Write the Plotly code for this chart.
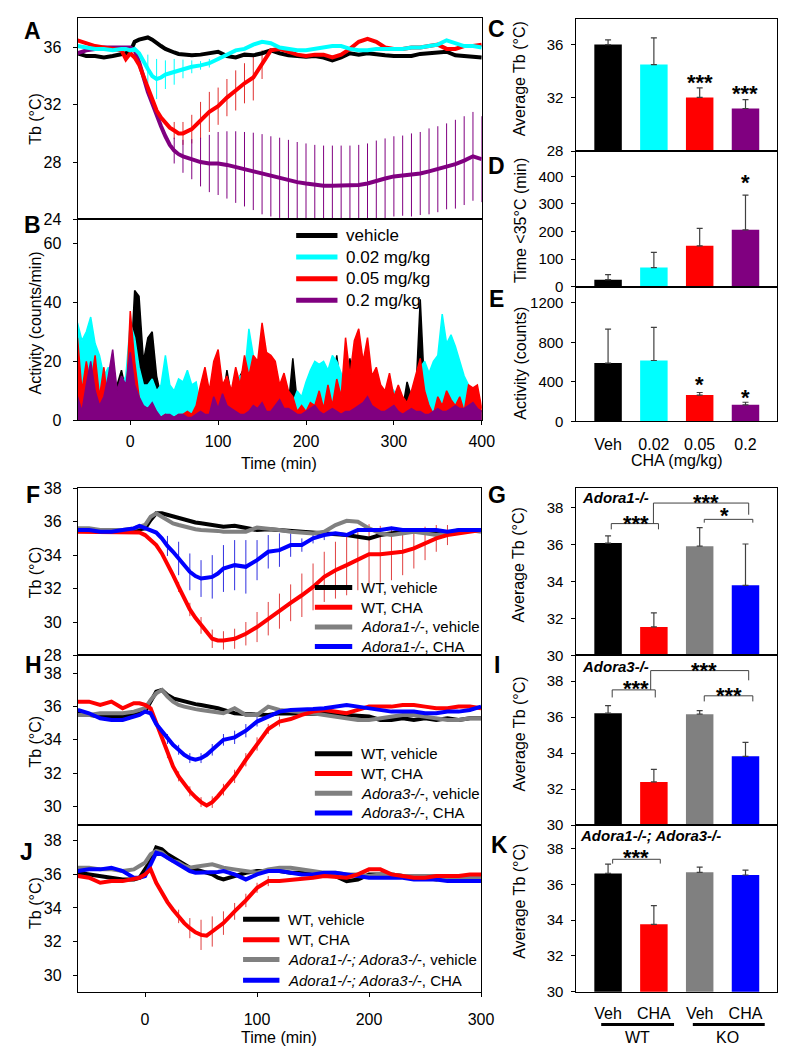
import plotly.graph_objects as go

W, H = 788, 1050
FONT = "Liberation Sans, Arial, sans-serif"

# ======================= DATA =======================
# ---- Panel A: Tb (°C) vs time (min), CHA doses ----
A_time = [-60, -50, -40, -30, -20, -10, -5, 0, 5, 10, 15, 20, 25, 30, 35, 40, 45, 50, 55, 60,
          70, 80, 90, 100, 110, 120, 130, 140, 150, 160, 170, 180, 190, 200, 210, 220, 230, 240,
          250, 260, 270, 280, 290, 300, 310, 320, 330, 340, 350, 360, 370, 380, 390, 400]
A_veh = [35.6, 35.4, 35.4, 35.3, 35.4, 35.5, 35.6, 35.7, 36.4, 36.55, 36.6, 36.7, 36.55, 36.3, 36.1, 35.9, 35.75, 35.65, 35.55, 35.5,
         35.45, 35.5, 35.6, 35.7, 35.4, 35.3, 35.5, 35.45, 35.6, 35.8, 35.6, 35.45, 35.4, 35.35, 35.4, 35.3, 35.1, 35.3,
         35.6, 35.5, 35.6, 35.5, 35.45, 35.4, 35.4, 35.4, 35.55, 35.6, 35.7, 35.7, 35.45, 35.4, 35.35, 35.3]
A_002 = [36.1, 36.0, 35.9, 35.9, 35.8, 35.9, 35.9, 35.8, 35.9, 35.6, 35.0, 34.5, 34.0, 33.8, 33.9, 34.1, 34.2, 34.3, 34.4, 34.5,
         34.65, 34.75, 34.9, 35.2, 35.5, 35.8, 35.9, 36.2, 36.4, 36.3, 36.0, 35.9, 35.8, 35.8, 35.9, 36.0, 36.1, 36.1,
         35.9, 35.8, 35.8, 35.9, 35.9, 35.95, 35.9, 36.0, 36.0, 36.1, 36.2, 36.5, 36.3, 36.1, 36.1, 36.0]
A_005 = [36.5, 36.3, 36.1, 36.0, 35.9, 35.8, 35.2, 35.6, 35.3, 34.8, 34.0, 33.2, 32.3, 31.6, 31.1, 30.7, 30.4, 30.2, 30.0, 30.0,
         30.3, 30.9, 31.5, 31.9, 32.5, 33.0, 33.5, 33.9, 34.8, 35.8, 35.9, 35.7, 35.5, 35.4, 35.5, 35.5, 35.3, 35.5,
         35.9, 36.4, 36.6, 36.4, 36.0, 35.9, 35.9, 36.0, 36.0, 36.1, 36.2, 35.9, 35.9, 36.1, 36.1, 36.2]
A_02 = [35.6, 35.8, 35.9, 36.0, 36.0, 36.0, 36.0, 36.0, 35.8, 35.0, 33.95, 32.9, 32.1, 31.2, 30.5, 29.8, 29.2, 28.8, 28.55, 28.4,
        28.2, 28.0, 27.9, 27.9, 27.8, 27.65, 27.5, 27.35, 27.15, 27.0, 26.9, 26.75, 26.6, 26.5, 26.4, 26.35, 26.35, 26.35,
        26.35, 26.4, 26.5, 26.7, 26.85, 27.0, 27.05, 27.1, 27.2, 27.35, 27.5, 27.7, 27.85, 28.1, 28.4, 28.2]
A_002_err_t = [20, 30, 40, 50, 60, 70, 80, 90]
A_002_err = [1.0, 1.4, 1.0, 0.9, 0.65, 0.45, 0.3, 0.3]
A_005_err_t = [50, 60, 70, 80, 90, 100, 110, 120, 130, 140, 150]
A_005_err = [0.6, 0.8, 1.0, 1.3, 1.4, 1.3, 1.3, 1.4, 1.4, 1.6, 1.0]
A_02_err_t = [50, 60, 70, 80, 90, 100, 110, 120, 130, 140, 150, 160, 170, 180, 190, 200, 210, 220,
              230, 240, 250, 260, 270, 280, 290, 300, 310, 320, 330, 340, 350, 360, 370, 380, 390, 400]
A_02_err = [0.9, 1.15, 1.4, 1.7, 2.0, 2.2, 2.35, 2.5, 2.6, 2.7, 2.8, 2.8, 2.8, 2.8, 2.8, 2.8, 2.8, 2.8,
            2.8, 2.8, 2.8, 2.8, 2.8, 2.8, 2.8, 2.8, 2.8, 2.9, 2.9, 3.0, 3.0, 3.0, 3.1, 3.1, 3.1, 3.0]

# ---- Panel B: activity (counts/min), 5-min bins ----
B_time = list(range(-60, 401, 5))
B_veh = [12, 5, 8, 4, 6, 3, 10, 5, 8, 12, 17, 10, 15, 44, 42, 20, 28, 30, 15, 8,
         4, 3, 3, 5, 4, 3, 4, 3, 3, 2, 3, 4, 5, 6, 17, 8, 10, 15, 18, 25,
         12, 8, 10, 6, 5, 9, 4, 6, 5, 21, 6, 4, 3, 4, 5, 3, 6, 8, 10, 22,
         10, 12, 21, 8, 12, 10, 9, 6, 5, 8, 10, 6, 8, 5, 4, 13, 8, 9, 41, 10,
         6, 5, 9, 14, 8, 13, 10, 6, 4, 6, 5, 5, 3]
B_002 = [33, 27, 30, 35, 26, 22, 15, 18, 10, 8, 12, 15, 33, 28, 18, 12, 12, 14, 10, 12,
         22, 12, 10, 14, 13, 17, 12, 13, 5, 8, 4, 3, 2, 0, 8, 10, 12, 15, 15, 31,
         22, 18, 10, 8, 6, 5, 4, 3, 4, 6, 10, 8, 13, 17, 20, 19, 20, 17, 22, 20,
         16, 8, 10, 5, 4, 6, 3, 5, 8, 6, 8, 12, 10, 8, 5, 4, 8, 12, 18, 20,
         16, 20, 22, 36, 26, 29, 25, 20, 15, 12, 8, 5, 2]
B_005 = [28, 10, 20, 12, 22, 8, 18, 5, 3, 5, 2, 4, 37, 20, 8, 0, 3, 2, 2, 1,
         2, 1, 1, 2, 2, 3, 2, 5, 12, 18, 10, 20, 24, 12, 15, 10, 18, 12, 22, 15,
         22, 20, 33, 23, 22, 20, 12, 16, 10, 8, 3, 5, 3, 6, 5, 10, 4, 12, 5, 14,
         8, 28, 15, 27, 31, 20, 28, 15, 18, 12, 10, 16, 8, 12, 8, 6, 10, 16, 21, 10,
         5, 2, 8, 5, 10, 7, 5, 8, 3, 12, 11, 12, 4]
B_02 = [8, 3, 12, 20, 10, 5, 8, 15, 24, 10, 15, 12, 23, 12, 8, 5, 4, 6, 3, 1,
        2, 2, 1, 2, 2, 1, 1, 2, 3, 2, 2, 8, 4, 9, 5, 4, 3, 2, 2, 3,
        5, 4, 6, 3, 3, 5, 7, 4, 4, 3, 2, 2, 3, 4, 5, 3, 2, 3, 4, 3,
        2, 3, 3, 4, 5, 6, 8, 5, 4, 3, 3, 4, 5, 3, 2, 3, 4, 3, 3, 2,
        2, 3, 4, 3, 3, 4, 5, 4, 4, 5, 6, 4, 3]

# ---- Panels C, D, E: bar summaries ----
dose_labels = ["Veh", "0.02", "0.05", "0.2"]
C_tb = [36.0, 34.5, 32.03, 31.2]
C_tb_err = [0.35, 2.0, 0.72, 0.66]
D_time35 = [25, 69, 148, 206]
D_time35_err = [18, 55, 63, 126]
E_act = [590, 616, 266, 167]
E_act_err = [344, 335, 26, 26]

# ---- Panels F, H, J: Tb vs time in knockouts ----
K_time = [-60, -50, -40, -30, -20, -10, -5, 0, 5, 10, 15, 20, 25, 30, 35, 40, 45, 50, 55, 60, 65, 70,
          80, 90, 100, 110, 120, 130, 140, 150, 160, 170, 180, 190, 200, 210, 220, 230, 240, 250, 260, 270, 280, 290, 300]
F_wt_veh = [35.55, 35.5, 35.4, 35.4, 35.4, 35.5, 35.5, 35.6, 36.1, 36.5, 36.5, 36.4, 36.3, 36.2, 36.1, 36.0, 35.95, 35.9, 35.85, 35.8, 35.75, 35.7,
            35.75, 35.6, 35.5, 35.55, 35.5, 35.45, 35.4, 35.35, 35.3, 35.3, 35.2, 35.1, 35.0, 35.2, 35.3, 35.4, 35.5, 35.4, 35.3, 35.3, 35.4, 35.5, 35.5]
F_wt_cha = [35.4, 35.4, 35.4, 35.4, 35.4, 35.4, 35.35, 35.2, 34.9, 34.6, 34.1, 33.5, 32.8, 32.1, 31.4, 30.75, 30.25, 29.8, 29.35, 29.0, 28.9, 28.9,
            29.0, 29.3, 29.7, 30.2, 30.65, 31.15, 31.6, 32.1, 32.7, 33.1, 33.4, 33.7, 34.05, 34.05, 34.1, 34.2, 34.4, 34.7, 35.0, 35.2, 35.3, 35.4, 35.5]
F_ko_veh = [35.6, 35.6, 35.5, 35.5, 35.5, 35.6, 35.7, 35.8, 36.3, 36.5, 36.3, 36.1, 35.9, 35.8, 35.7, 35.6, 35.55, 35.5, 35.5, 35.5, 35.45, 35.4,
            35.4, 35.4, 35.65, 35.6, 35.5, 35.4, 35.35, 35.3, 35.4, 35.8, 36.05, 36.0, 35.6, 35.3, 35.2, 35.3, 35.4, 35.3, 35.2, 35.3, 35.5, 35.5, 35.4]
F_ko_cha = [35.5, 35.5, 35.4, 35.4, 35.5, 35.6, 35.75, 35.6, 35.5, 35.35, 35.0, 34.55, 34.2, 33.8, 33.4, 33.0, 32.75, 32.6, 32.65, 32.7, 32.9, 33.2,
            33.4, 33.3, 33.7, 34.2, 34.3, 34.6, 34.6, 35.0, 35.2, 35.3, 35.2, 35.5, 35.5, 35.5, 35.6, 35.5, 35.5, 35.5, 35.5, 35.4, 35.5, 35.5, 35.5]
F_wt_cha_err_t = [30, 40, 50, 60, 70, 80, 90, 100, 110, 120, 130, 140, 150, 160, 170, 180, 190, 200, 210, 220, 230, 240, 250, 260, 270]
F_wt_cha_err = [0.3, 0.4, 0.5, 0.55, 0.55, 0.6, 0.7, 0.9, 1.0, 1.05, 1.1, 1.3, 1.4, 1.5, 1.7, 1.8, 1.8, 1.8, 1.7, 1.6, 1.4, 1.2, 1.0, 0.8, 0.6]
F_ko_cha_err_t = [20, 30, 40, 50, 60, 70, 80, 90, 100, 110, 120, 130, 140, 150, 160]
F_ko_cha_err = [0.6, 1.0, 1.1, 1.1, 1.3, 1.4, 1.5, 1.6, 1.2, 1.0, 1.0, 0.7, 0.4, 0.3, 0.3]

H_wt_veh = [35.6, 35.5, 35.4, 35.4, 35.4, 35.5, 35.6, 35.7, 36.3, 36.9, 37.0, 36.7, 36.5, 36.4, 36.3, 36.2, 36.15, 36.1, 36.05, 36.0, 35.9, 35.8,
            35.6, 35.55, 35.5, 35.5, 35.6, 35.6, 35.6, 35.6, 35.6, 35.55, 35.5, 35.45, 35.4, 35.2, 35.2, 35.3, 35.2, 35.3, 35.2, 35.3, 35.2, 35.3, 35.3]
H_wt_cha = [36.3, 36.3, 36.1, 36.3, 35.9, 36.2, 36.2, 36.1, 35.9, 35.0, 34.1, 33.2, 32.4, 31.8, 31.3, 30.9, 30.55, 30.25, 30.05, 30.25, 30.6, 31.0,
            31.8, 32.8, 33.75, 34.65, 35.1, 35.25, 35.5, 35.7, 35.8, 35.7, 35.6, 35.8, 36.0, 36.0, 36.0, 36.1, 36.1, 36.0, 35.9, 35.9, 36.0, 36.0, 35.9]
H_ko_veh = [35.5, 35.5, 35.6, 35.6, 35.6, 35.7, 35.8, 35.9, 36.4, 36.8, 37.0, 36.6, 36.3, 36.1, 36.0, 35.9, 35.85, 35.8, 35.75, 35.7, 35.65, 35.6,
            35.9, 35.5, 35.5, 36.0, 35.8, 35.75, 35.7, 35.6, 35.5, 35.4, 35.25, 35.2, 35.2, 35.3, 35.4, 35.5, 35.5, 35.4, 35.3, 35.2, 35.2, 35.3, 35.3]
H_ko_cha = [35.8, 35.6, 35.3, 35.2, 35.2, 35.4, 35.5, 35.7, 35.6, 34.95, 34.5, 34.05, 33.7, 33.4, 33.1, 32.9, 32.8, 32.9, 33.1, 33.4, 33.7, 34.0,
            34.15, 34.55, 35.1, 35.4, 35.7, 35.8, 35.8, 35.85, 35.9, 36.0, 36.1, 36.0, 35.9, 35.8, 35.7, 35.7, 35.7, 35.6, 35.6, 35.7, 35.7, 35.8, 36.0]
H_wt_cha_err_t = [20, 30, 40, 50, 60, 70, 80, 90, 100, 110, 120]
H_wt_cha_err = [0.3, 0.3, 0.3, 0.3, 0.35, 0.35, 0.4, 0.4, 0.4, 0.3, 0.3]
H_ko_cha_err_t = [20, 30, 40, 50, 60, 70, 80, 90, 100]
H_ko_cha_err = [0.3, 0.3, 0.3, 0.3, 0.35, 0.35, 0.4, 0.4, 0.3]

J_wt_veh = [36.1, 36.0, 35.9, 35.8, 35.7, 35.7, 35.8, 36.3, 36.8, 37.6, 37.5, 37.2, 37.0, 36.8, 36.6, 36.4, 36.3, 36.2, 36.1, 36.0, 35.8, 35.7,
            35.9, 36.1, 36.2, 36.2, 36.2, 36.1, 36.1, 36.0, 36.0, 35.9, 35.6, 35.7, 36.0, 36.0, 36.0, 35.9, 35.8, 35.8, 35.7, 35.8, 35.7, 35.7, 35.7]
J_wt_cha = [35.9, 35.8, 35.5, 35.6, 35.6, 35.7, 35.8, 36.0, 36.3, 35.5, 34.9, 34.35, 33.9, 33.5, 33.1, 32.8, 32.55, 32.4, 32.35, 32.6, 32.85, 33.1,
            33.8, 34.45, 35.2, 35.6, 35.6, 35.65, 35.7, 35.8, 35.9, 35.85, 35.8, 36.0, 36.3, 36.3, 36.0, 35.9, 35.8, 35.8, 35.9, 35.9, 35.9, 36.0, 36.0]
J_ko_veh = [36.4, 36.4, 36.3, 36.3, 36.2, 36.3, 36.5, 36.7, 37.2, 37.4, 37.3, 37.0, 36.8, 36.7, 36.5, 36.4, 36.45, 36.5, 36.55, 36.6, 36.5, 36.4,
            36.3, 36.2, 36.1, 36.3, 36.4, 36.4, 36.3, 36.2, 36.1, 36.1, 36.0, 36.0, 35.9, 36.0, 36.0, 35.9, 35.9, 35.9, 35.9, 35.8, 35.8, 35.8, 35.8]
J_ko_cha = [36.2, 36.3, 36.3, 36.4, 36.2, 35.8, 35.8, 35.9, 36.6, 37.3, 37.2, 37.0, 36.8, 36.6, 36.4, 36.2, 36.1, 36.1, 36.1, 36.1, 36.15, 36.2,
            36.0, 35.7, 36.0, 36.2, 36.2, 36.1, 36.0, 36.0, 36.1, 36.1, 36.0, 35.9, 35.8, 35.8, 35.8, 35.8, 35.7, 35.7, 35.7, 35.6, 35.6, 35.6, 35.6]
J_wt_cha_err_t = [30, 40, 50, 60, 70, 80, 90, 100, 110]
J_wt_cha_err = [0.4, 0.6, 0.9, 0.9, 0.7, 0.5, 0.4, 0.3, 0.3]

# ---- Panels G, I, K: average Tb bars ----
group_labels = ["Veh", "CHA", "Veh", "CHA"]
G_tb = [36.07, 31.54, 35.9, 33.79]
G_tb_err = [0.39, 0.76, 1.0, 2.23]
I_tb = [36.22, 32.4, 36.16, 33.82]
I_tb_err = [0.42, 0.7, 0.2, 0.78]
Kb_tb = [36.62, 33.77, 36.68, 36.53]
Kb_tb_err = [0.52, 1.05, 0.29, 0.27]

# ======================= STYLE =======================
BLACK, CYAN, RED, PURPLE, GRAY, BLUE = "#000000", "#00FFFF", "#FF0000", "#800080", "#808080", "#0000FF"
dose_colors = [BLACK, CYAN, RED, PURPLE]
ko_colors = [BLACK, RED, GRAY, BLUE]

fig = go.Figure()
layout_axes = {}
shapes = []
annotations = []


def names(n):
    s = "" if n == 1 else str(n)
    return "xaxis" + s, "yaxis" + s, "x" + s, "y" + s


def make_axes(n, xpx, ypx, xr, yr, yticks, xticks=None, xticktext=None, xtickmarks=True,
              xstandoff=3, ystandoff=8, xfont=16, yfont=16):
    xa, ya, xref, yref = names(n)
    common = dict(showline=True, linecolor="black", linewidth=1, mirror=True,
                  showgrid=False, zeroline=False, fixedrange=True)
    layout_axes[xa] = dict(common, domain=[xpx[0] / W, xpx[1] / W], range=xr, anchor=yref,
                           tickmode="array", tickvals=xticks if xticks else [],
                           ticktext=xticktext, showticklabels=bool(xticks),
                           ticks="outside" if (xticks and xtickmarks) else "", ticklen=4,
                           tickcolor="black", ticklabelstandoff=xstandoff,
                           tickfont=dict(family=FONT, size=xfont, color="black"))
    layout_axes[ya] = dict(common, domain=[1 - ypx[1] / H, 1 - ypx[0] / H], range=yr, anchor=xref,
                           tickmode="array", tickvals=yticks, ticks="outside", ticklen=4,
                           tickcolor="black", ticklabelstandoff=ystandoff,
                           tickfont=dict(family=FONT, size=yfont, color="black"))


def line(n, x, y, color, width=4):
    _, _, xr, yr = names(n)
    fig.add_trace(go.Scatter(x=x, y=y, mode="lines", line=dict(color=color, width=width),
                             xaxis=xr, yaxis=yr, showlegend=False, hoverinfo="skip"))


def errbars(n, t_all, y_all, et, ev, color):
    _, _, xr, yr = names(n)
    ys = [y_all[t_all.index(t)] for t in et]
    fig.add_trace(go.Scatter(x=et, y=ys, mode="markers", marker=dict(size=1, color="rgba(0,0,0,0)"),
                             error_y=dict(type="data", array=ev, symmetric=True, color=color,
                                          thickness=1, width=0),
                             xaxis=xr, yaxis=yr, showlegend=False, hoverinfo="skip"))


def area(n, x, y, color):
    _, _, xr, yr = names(n)
    fig.add_trace(go.Scatter(x=x, y=y, mode="lines", fill="tozeroy", fillcolor=color,
                             line=dict(color=color, width=1.5), xaxis=xr, yaxis=yr,
                             showlegend=False, hoverinfo="skip"))


def bars(n, vals, errs, colors):
    _, _, xr, yr = names(n)
    fig.add_trace(go.Bar(x=list(range(len(vals))), y=vals, width=0.6,
                         marker=dict(color=colors, line=dict(width=0)),
                         error_y=dict(type="data", array=errs, arrayminus=[0] * len(errs),
                                      symmetric=False, color="#404040", thickness=1.2, width=3),
                         xaxis=xr, yaxis=yr, showlegend=False, hoverinfo="skip"))


def text(x, y, s, size=16, bold=False, italic=False, angle=0, xanchor="center", yanchor="middle"):
    if bold:
        s = "<b>" + s + "</b>"
    if italic:
        s = "<i>" + s + "</i>"
    annotations.append(dict(text=s, x=x / W, y=1 - y / H, xref="paper", yref="paper",
                            showarrow=False, textangle=angle, xanchor=xanchor, yanchor=yanchor,
                            font=dict(family=FONT, size=size, color="black")))


def star(n, x, y, s, size=22):
    _, _, xr, yr = names(n)
    annotations.append(dict(text="<b>" + s + "</b>", x=x, y=y, xref=xr, yref=yr, showarrow=False,
                            xanchor="center", yanchor="middle", yshift=-6,
                            font=dict(family=FONT, size=size, color="black")))


def bracket(n, x0, x1, ytop, yleft, yright):
    _, _, xr, yr = names(n)
    shapes.append(dict(type="path", xref=xr, yref=yr,
                       path=f"M {x0},{yleft} L {x0},{ytop} L {x1},{ytop} L {x1},{yright}",
                       line=dict(color="#404040", width=1)))


def legend(x0, x1, xt, ys, colors, labels, size):
    for y, c, lab in zip(ys, colors, labels):
        shapes.append(dict(type="line", xref="paper", yref="paper", x0=x0 / W, x1=x1 / W,
                           y0=1 - y / H, y1=1 - y / H, line=dict(color=c, width=5)))
        text(xt, y, lab, size=size, xanchor="left")


LX = (70.7, 481.7)
RX = (578, 782)
BX_RANGE = [-0.69, 3.69]
RF = 15  # right-column tick font

# ---- axes ----
make_axes(1, LX, (2, 206.7), [-60, 400], [24, 38.06], [24, 28, 32, 36])
make_axes(2, LX, (206.7, 411), [-60, 400], [0, 68.1], [0, 20, 40, 60],
          xticks=[0, 100, 200, 300, 400], xstandoff=2)
make_axes(3, RX, (2.7, 137.3), BX_RANGE, [28, 37.95], [28, 32, 36], ystandoff=5, yfont=RF)
make_axes(4, RX, (137.3, 275), BX_RANGE, [0, 492], [0, 100, 200, 300, 400], ystandoff=5, yfont=RF)
make_axes(5, RX, (275, 412), BX_RANGE, [0, 1365], [0, 400, 800, 1200],
          xticks=[0, 1, 2, 3], xticktext=dose_labels, xtickmarks=False, xstandoff=8,
          ystandoff=5, yfont=RF)
make_axes(6, (71, 481), (480, 650), [-60, 300], [28, 38], [28, 30, 32, 34, 36, 38])
make_axes(7, (71, 481), (650, 822.5), [-60, 300], [28.86, 39.08], [30, 32, 34, 36, 38])
make_axes(8, (71, 481), (822.5, 991.7), [-60, 300], [29.02, 38.93], [30, 32, 34, 36, 38],
          xticks=[0, 100, 200, 300], xstandoff=9)
make_axes(9, RX, (480, 650), BX_RANGE, [30, 39.03], [30, 32, 34, 36, 38], ystandoff=5, yfont=RF)
make_axes(10, RX, (650, 822.5), BX_RANGE, [30, 39.42], [30, 32, 34, 36, 38], ystandoff=5, yfont=RF)
make_axes(11, RX, (822.5, 991.7), BX_RANGE, [30, 39.32], [30, 32, 34, 36, 38],
          xticks=[0, 1, 2, 3], xticktext=group_labels, xtickmarks=False, xstandoff=7,
          ystandoff=5, yfont=RF)

# ---- Panel A ----
errbars(1, A_time, A_002, A_002_err_t, A_002_err, CYAN)
errbars(1, A_time, A_005, A_005_err_t, A_005_err, "#E03030")
errbars(1, A_time, A_02, A_02_err_t, A_02_err, PURPLE)
line(1, A_time, A_veh, BLACK)
line(1, A_time, A_02, PURPLE)
line(1, A_time, A_005, RED)
line(1, A_time, A_002, CYAN)

# ---- Panel B ----
area(2, B_time, B_veh, BLACK)
area(2, B_time, B_002, CYAN)
area(2, B_time, B_005, RED)
area(2, B_time, B_02, PURPLE)

# ---- Panels C, D, E ----
bars(3, C_tb, C_tb_err, dose_colors)
bars(4, D_time35, D_time35_err, dose_colors)
bars(5, E_act, E_act_err, dose_colors)
star(3, 2, 33.6, "***")
star(3, 3, 32.75, "***")
star(4, 3, 398, "*")
star(5, 2, 433, "*")
star(5, 3, 302, "*")

# ---- Panel F ----
errbars(6, K_time, F_wt_cha, F_wt_cha_err_t, F_wt_cha_err, "#E04040")
errbars(6, K_time, F_ko_cha, F_ko_cha_err_t, F_ko_cha_err, "#3030E0")
line(6, K_time, F_wt_veh, BLACK)
line(6, K_time, F_ko_veh, GRAY)
line(6, K_time, F_wt_cha, RED)
line(6, K_time, F_ko_cha, BLUE)

# ---- Panel H ----
errbars(7, K_time, H_wt_cha, H_wt_cha_err_t, H_wt_cha_err, "#E04040")
errbars(7, K_time, H_ko_cha, H_ko_cha_err_t, H_ko_cha_err, "#3030E0")
line(7, K_time, H_wt_veh, BLACK)
line(7, K_time, H_ko_veh, GRAY)
line(7, K_time, H_wt_cha, RED)
line(7, K_time, H_ko_cha, BLUE)

# ---- Panel J ----
errbars(8, K_time, J_wt_cha, J_wt_cha_err_t, J_wt_cha_err, "#E04040")
line(8, K_time, J_wt_veh, BLACK)
line(8, K_time, J_ko_veh, GRAY)
line(8, K_time, J_ko_cha, BLUE)
line(8, K_time, J_wt_cha, RED)

# ---- Panels G, I, K ----
bars(9, G_tb, G_tb_err, ko_colors)
bars(10, I_tb, I_tb_err, ko_colors)
bars(11, Kb_tb, Kb_tb_err, ko_colors)

bracket(9, 0.07, 1.1, 37.12, 36.81, 36.81)
bracket(9, 0.99, 3.07, 38.23, 37.12, 37.6)
bracket(9, 2.1, 3.16, 37.35, 37.17, 37.17)
star(9, 0.6, 37.43, "***")
star(9, 2.13, 38.58, "***")
star(9, 2.54, 37.88, "*")

bracket(10, 0.09, 1.03, 37.51, 37.09, 37.09)
bracket(10, 0.93, 3.07, 38.58, 37.51, 38.04)
bracket(10, 2.1, 3.16, 37.18, 36.87, 36.87)
star(10, 0.6, 37.91, "***")
star(10, 2.1, 38.91, "***")
star(10, 2.63, 37.55, "***")

bracket(11, 0.1, 1.14, 37.41, 37.17, 37.17)
star(11, 0.6, 37.82, "***")

# group underlines in K
for gx0, gx1 in [(-0.15, 1.44), (1.85, 3.42)]:
    shapes.append(dict(type="line", xref="x11", yref="paper", x0=gx0, x1=gx1,
                       y0=1 - 1025 / H, y1=1 - 1025 / H, line=dict(color="black", width=3)))
text(640, 1038, "WT", size=16)
text(732, 1038, "KO", size=16)

# ---- gene labels in bar panels ----
text(582, 489, "Adora1-/-", size=15, bold=True, italic=True, xanchor="left")
text(582, 661, "Adora3-/-", size=15, bold=True, italic=True, xanchor="left")
text(580, 833, "Adora1-/-; Adora3-/-", size=15, bold=True, italic=True, xanchor="left")

# ---- legends ----
legend(293, 335, 342, [223, 245, 267, 289], dose_colors,
       ["vehicle", "0.02 mg/kg", "0.05 mg/kg", "0.2 mg/kg"], 17)
legend(312, 350, 357, [581, 601, 621, 641], [BLACK, RED, GRAY, BLUE],
       ["WT, vehicle", "WT, CHA", "<i>Adora1-/-</i>, vehicle", "<i>Adora1-/-</i>, CHA"], 15)
legend(312, 350, 357, [750, 770, 790, 810], [BLACK, RED, GRAY, BLUE],
       ["WT, vehicle", "WT, CHA", "<i>Adora3-/-</i>, vehicle", "<i>Adora3-/-</i>, CHA"], 15)
legend(239, 276, 283, [918, 939, 959, 980], [BLACK, RED, GRAY, BLUE],
       ["WT, vehicle", "WT, CHA", "<i>Adora1-/-; Adora3-/-</i>, vehicle",
        "<i>Adora1-/-; Adora3-/-</i>, CHA"], 15)

# ---- axis titles ----
text(28, 105, "Tb (°C)", angle=-90)
text(28, 312, "Activity (counts/min)", angle=-90)
text(276, 455, "Time (min)")
text(521, 64, "Average Tb (°C)", angle=-90)
text(521, 208, "Time <35°C (min)", angle=-90)
text(521, 353, "Activity (counts)", angle=-90)
text(680, 452, "CHA (mg/kg)")
text(28, 566, "Tb (°C)", angle=-90)
text(28, 738, "Tb (°C)", angle=-90)
text(28, 902, "Tb (°C)", angle=-90)
text(276, 1038, "Time (min)")
text(520, 558, "Average Tb (°C)", angle=-90)
text(520, 730, "Average Tb (°C)", angle=-90)
text(520, 900, "Average Tb (°C)", angle=-90)

# ---- panel letters ----
for lab, x, y in [("A", 25, 15), ("B", 25, 212), ("C", 497, 13), ("D", 497, 152), ("E", 497, 288),
                  ("F", 25, 487), ("G", 497, 487), ("H", 26, 660), ("I", 497, 660),
                  ("J", 19, 850), ("K", 500, 843)]:
    text(x, y, lab, size=23, bold=True)

fig.update_layout(width=W, height=H, margin=dict(l=0, r=0, t=0, b=0),
                  paper_bgcolor="white", plot_bgcolor="white", showlegend=False,
                  barmode="overlay", shapes=shapes, annotations=annotations,
                  font=dict(family=FONT, size=16, color="black"), **layout_axes)

fig.write_html("out.html")
